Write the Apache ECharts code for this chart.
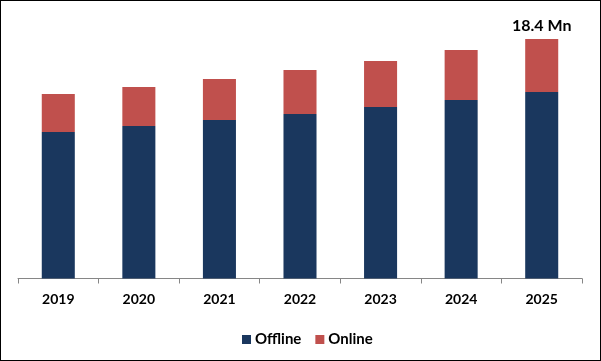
<!DOCTYPE html>
<html>
<head>
<meta charset="utf-8">
<script src="https://cdn.jsdelivr.net/npm/echarts@6/dist/echarts.min.js"></script>
<style>
html,body{margin:0;padding:0;background:#fff;}
#frame{width:601px;height:361px;box-sizing:border-box;border:1px solid #000;position:relative;}
#chart{position:absolute;left:-1px;top:-1px;width:601px;height:361px;}
</style>
</head>
<body>
<div id="frame"><div id="chart"></div></div>
<script>
const categories = ['2019','2020','2021','2022','2023','2024','2025'];
const offline = [11.25, 11.71, 12.17, 12.63, 13.17, 13.71, 14.32];
const online = [2.92, 3.00, 3.15, 3.38, 3.53, 3.84, 4.08];
const seriesNames = ['Offline','Online'];
const totalLabel = '18.4 Mn';

const chart = echarts.init(document.getElementById('chart'), null, {renderer:'canvas'});
const lastIdx = categories.length - 1;
const onlineData = online.map((v,i) => i === lastIdx ? {
  value: v,
  label: {show: true, position: 'top', distance: 5, formatter: totalLabel,
          color: '#000', fontFamily: 'Lato', fontWeight: 'bold', fontSize: 16}
} : v);

chart.setOption({
  animation: false,
  grid: {left: 18, right: 19, top: 18.1, bottom: 82.5, containLabel: false},
  legend: {
    data: seriesNames, left: 237, top: 327, itemWidth: 9, itemHeight: 9, itemGap: 14,
    icon: 'rect',
    textStyle: {fontFamily: 'Lato', fontWeight: 'bold', fontSize: 15, color: '#000', padding: [0,0,0,-1]}
  },
  xAxis: {
    type: 'category', data: categories,
    axisLine: {lineStyle: {color: '#868686', width: 1}},
    axisTick: {show: true, length: 5, lineStyle: {color: '#868686'}},
    axisLabel: {fontFamily: 'Lato', fontWeight: 'bold', fontSize: 14, color: '#000', margin: 14}
  },
  yAxis: {
    type: 'value', min: 0, max: 20, show: false, splitLine: {show: false}
  },
  series: [
    {name: seriesNames[0], type: 'bar', stack: 'total', data: offline, barWidth: '41%',
     itemStyle: {color: '#1a375e'}},
    {name: seriesNames[1], type: 'bar', stack: 'total', data: onlineData, barWidth: '41%',
     itemStyle: {color: '#c0504d'}}
  ]
});
</script>
</body>
</html>
